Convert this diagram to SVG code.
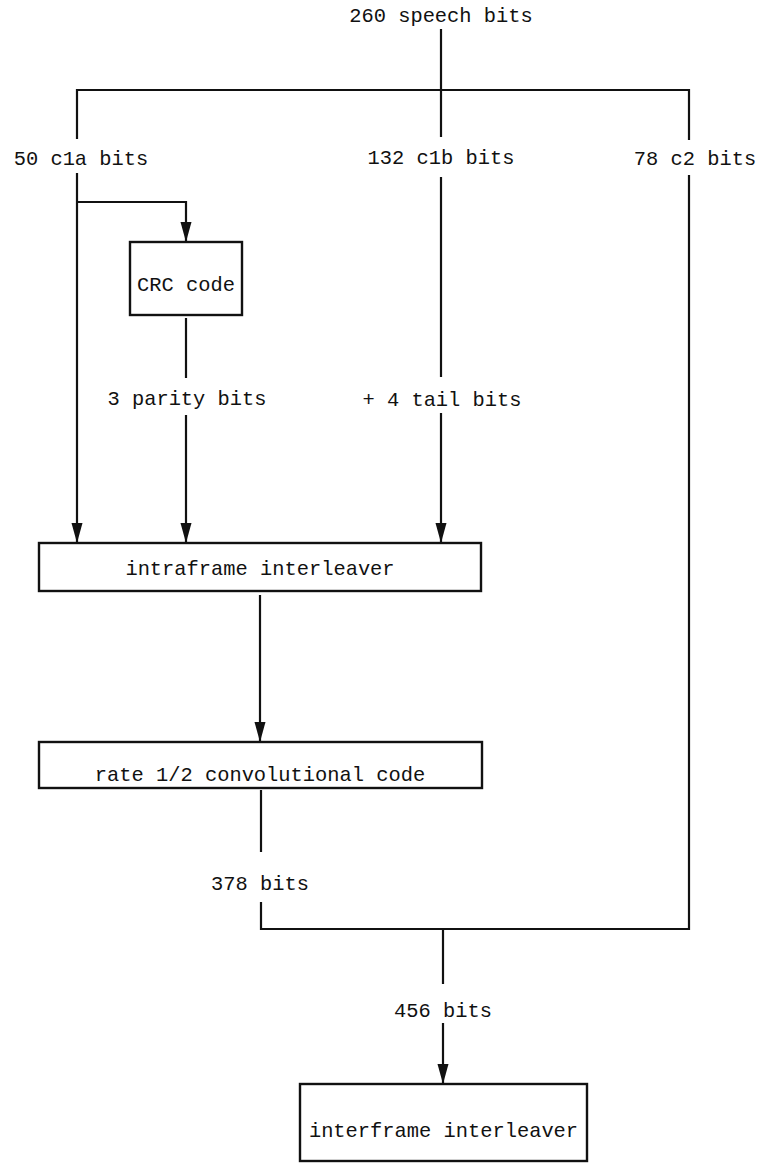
<svg xmlns="http://www.w3.org/2000/svg" width="760" height="1164" viewBox="0 0 760 1164">
<style>
  .lbl { font-family: "Liberation Mono", "Courier New", monospace; font-size: 20.4px; fill: #111; text-anchor: middle; }
  .box { fill: #fff; stroke: #111; stroke-width: 2.4; }
  .ln { fill: none; stroke: #111; stroke-width: 2.2; }
  .arr { marker-end: url(#ah); }
</style>
<defs>
  <marker id="ah" markerUnits="userSpaceOnUse" markerWidth="20" markerHeight="12" refX="20" refY="6" orient="auto">
    <path d="M0,0.5 L20,6 L0,11.5 z" fill="#111"/>
  </marker>
</defs>
<rect width="760" height="1164" fill="#fff"/>

<g id="connectors">
  <path class="ln" d="M441,29 V137"/>
  <path class="ln" d="M77,139 V90 H689 V140"/>
  <path class="ln arr" d="M77,173 V543"/>
  <path class="ln arr" d="M77,202 H186 V242"/>
  <path class="ln" d="M186,318 V378"/>
  <path class="ln arr" d="M186,415 V543"/>
  <path class="ln" d="M441,177 V377"/>
  <path class="ln arr" d="M441,413 V543"/>
  <path class="ln" d="M689,175 V929 H261 V902"/>
  <path class="ln arr" d="M260,595 V742"/>
  <path class="ln" d="M261,790 V852"/>
  <path class="ln" d="M443,929 V984"/>
  <path class="ln arr" d="M443,1023 V1084"/>
</g>

<g id="labels">
  <text class="lbl" x="441" y="22">260 speech bits</text>
  <text class="lbl" x="81" y="165">50 c1a bits</text>
  <text class="lbl" x="441" y="164">132 c1b bits</text>
  <text class="lbl" x="695" y="165">78 c2 bits</text>
  <text class="lbl" x="187" y="405">3 parity bits</text>
  <text class="lbl" x="442" y="406">+ 4 tail bits</text>
  <text class="lbl" x="260" y="890">378 bits</text>
  <text class="lbl" x="443" y="1017">456 bits</text>
</g>

<g id="crc">
  <rect class="box" x="130" y="242" width="112" height="73"/>
  <text class="lbl" x="186" y="291">CRC code</text>
</g>

<g id="intraframe">
  <rect class="box" x="39" y="543" width="442" height="48"/>
  <text class="lbl" x="260" y="575">intraframe interleaver</text>
</g>

<g id="convolutional">
  <rect class="box" x="39" y="742" width="443" height="46"/>
  <text class="lbl" x="260" y="781">rate 1/2 convolutional code</text>
</g>

<g id="interframe">
  <rect class="box" x="300" y="1084" width="287" height="77"/>
  <text class="lbl" x="443.5" y="1137">interframe interleaver</text>
</g>
</svg>
